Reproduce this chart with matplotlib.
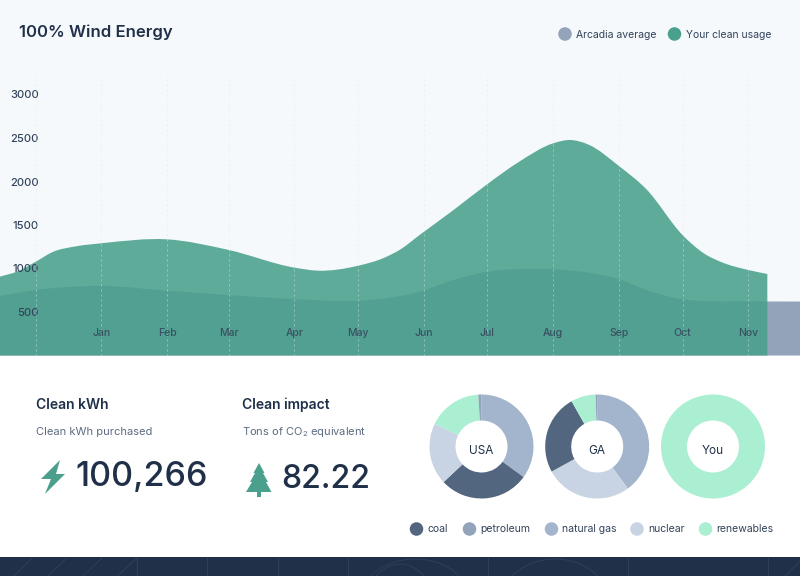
import numpy as np
import matplotlib
matplotlib.use("Agg")
import matplotlib.pyplot as plt
from matplotlib.path import Path
from matplotlib.patches import PathPatch, Polygon, Arc

# days counted from the Jan tick (leap year)
month_labels = ["Jan", "Feb", "Mar", "Apr", "May", "Jun", "Jul", "Aug", "Sep", "Oct", "Nov"]
month_days = [0, 31, 60, 91, 121, 152, 182, 213, 244, 274, 305]
grid_days = [-31] + month_days
y_ticks = [500, 1000, 1500, 2000, 2500, 3000]

usage_days = [-48, -40, -31, -23, -12, 0, 31, 60, 91, 102, 121, 133, 141, 150, 166, 182, 197, 213,
              221, 230, 244, 257, 274, 284, 293, 305, 314]
usage_vals = [906, 963, 1078, 1190, 1255, 1290, 1335, 1213, 1010, 975, 1032, 1120, 1220, 1385, 1672, 1971,
              2228, 2439, 2477, 2420, 2178, 1910, 1385, 1175, 1067, 983, 937]

arcadia_days = [-48, -31, 0, 31, 60, 91, 121, 141, 150, 166, 182, 197, 213, 235, 244, 257, 274, 284, 305, 330]
arcadia_vals = [684, 753, 799, 745, 695, 649, 630, 684, 733, 868, 963, 994, 991, 930, 879, 753, 646, 626, 622, 620]

energy_labels = ["coal", "petroleum", "natural gas", "nuclear", "renewables"]
energy_colors = ["#53667f", "#92a3ba", "#a3b5cc", "#c8d4e3", "#aaefd2"]
usa_order = [2, 0, 3, 4, 1]
usa_shares = [35, 28, 19.2, 16.8, 1]
ga_order = [2, 3, 0, 4, 1]
ga_shares = [40, 27, 24.8, 7.7, 0.5]
you_order = [4]
you_shares = [100]

PAGE_BG = "#f5f9fc"
DARK = "#1f3048"
GREEN = "#4aa08c"
W, H = 800, 576


def smooth_area(days, vals):
    # cubic hermite through the read points, closed down to zero
    x = np.asarray(days, float)
    y = np.asarray(vals, float)
    slopes = np.gradient(y, x)
    verts = [(x[0], 0), (x[0], y[0])]
    codes = [Path.MOVETO, Path.LINETO]
    for i in range(len(x) - 1):
        h = x[i + 1] - x[i]
        verts += [(x[i] + h / 3, y[i] + slopes[i] * h / 3),
                  (x[i + 1] - h / 3, y[i + 1] - slopes[i + 1] * h / 3),
                  (x[i + 1], y[i + 1])]
        codes += [Path.CURVE4] * 3
    verts += [(x[-1], 0), (x[0], 0)]
    codes += [Path.LINETO, Path.CLOSEPOLY]
    return Path(verts, codes)


plt.rcParams["font.family"] = ["Inter", "DejaVu Sans"]
plt.rcParams["mathtext.default"] = "regular"

fig = plt.figure(figsize=(8, 5.76), dpi=100, facecolor="white")

# page layer in pixel coordinates
page = fig.add_axes([0, 0, 1, 1], zorder=0)
page.set_xlim(0, W)
page.set_ylim(H, 0)
page.axis("off")
page.fill_between([0, W], 0, 356, color=PAGE_BG, lw=0)
page.fill_between([0, W], 557, H, color=DARK, lw=0)

# faint lines in the footer
footer_lines = [[(14, 576), (32, 558)], [(48, 576), (67, 558)], [(83, 576), (102, 558)],
                [(117, 576), (137, 558)], [(137, 558), (137, 576)], [(207, 558), (207, 576)],
                [(278, 558), (278, 576)], [(348, 558), (348, 576)], [(488, 558), (488, 576)],
                [(628, 558), (628, 576)], [(768, 558), (768, 576)], [(785, 576), (800, 561)]]
for seg in footer_lines:
    xs, ys = zip(*seg)
    page.plot(xs, ys, color="#2e3f58", lw=0.7)
for cx, cy, w, h in [(400, 601, 64, 74), (415, 592, 100, 66), (555, 607, 112, 96)]:
    page.add_patch(Arc((cx, cy), w, h, theta1=180, theta2=360, color="#2e3f58", lw=0.7))

# area chart
ax = fig.add_axes([0, 1 - 355.5 / H, 1, (355.5 - 60) / H], zorder=1)
ax.patch.set_alpha(0)
ax.set_xlim(-47.86, 329.4)
ax.set_ylim(0, (355.5 - 60) / 0.087)
ax.set_axisbelow(False)
for s in ax.spines.values():
    s.set_visible(False)
ax.add_patch(PathPatch(smooth_area(arcadia_days, arcadia_vals), fc="#92a3ba", ec="none", zorder=1))
ax.add_patch(PathPatch(smooth_area(usage_days, usage_vals), fc=GREEN, ec="none", alpha=0.88, zorder=2))
ax.vlines(grid_days, 0, 3220, color="#dfe6ec", lw=0.6, ls=(0, (2.5, 3.5)), alpha=0.55, zorder=3)
ax.set_yticks(y_ticks)
ax.set_yticklabels([str(v) for v in y_ticks])
ax.tick_params(axis="y", direction="in", pad=-28, length=0, labelsize=8, labelcolor="#33435a")
for lab in ax.get_yticklabels():
    lab.set_ha("right")
    lab.set_fontweight("medium")
ax.set_xticks([])
for d, m in zip(month_days, month_labels):
    ax.annotate(m, (d, 0), xytext=(0, 16), textcoords="offset points", ha="center", va="center",
                fontsize=7.5, fontweight="medium", color="#33435a", alpha=0.85, zorder=5)

# top labels
page2 = fig.add_axes([0, 0, 1, 1], zorder=2)
page2.set_xlim(0, W)
page2.set_ylim(H, 0)
page2.axis("off")
page2.text(19, 32.5, "100% Wind Energy", fontsize=12, fontweight="semibold", color=DARK, va="center")
page2.scatter([565, 674.5], [34, 34], s=95, color=["#92a3ba", GREEN], lw=0)
page2.text(576, 34.5, "Arcadia average", fontsize=7.5, color="#33435a", va="center")
page2.text(686, 34.5, "Your clean usage", fontsize=7.5, color="#33435a", va="center")

# stats
page2.text(36.5, 405, "Clean kWh", fontsize=10, fontweight="semibold", color=DARK, va="center")
page2.text(36.5, 432, "Clean kWh purchased", fontsize=8, color="#5c6c80", va="center")
page2.text(75, 476.5, "100,266", fontsize=24.5, fontweight="medium", color=DARK, va="center")
page2.text(242, 405, "Clean impact", fontsize=10, fontweight="semibold", color=DARK, va="center")
page2.text(242, 432, "Tons of CO$_2$ equivalent", fontsize=8, color="#5c6c80", va="center")
page2.text(281, 479, "82.22", fontsize=23, fontweight="medium", color=DARK, va="center")

bolt = [(60, 460), (41, 479), (51, 479), (45, 494), (65, 474), (56, 474)]
page2.add_patch(Polygon(bolt, closed=True, fc=GREEN, ec="none"))
tree = [(259, 463), (264.5, 473), (263, 473), (268, 482), (266, 482), (271.5, 492), (261, 492), (261, 497),
        (257, 497), (257, 492), (246, 492), (252, 482), (250, 482), (255, 473), (253.5, 473)]
page2.add_patch(Polygon(tree, closed=True, fc=GREEN, ec="none"))

# donuts
for cx, name, order, shares in [(481.5, "USA", usa_order, usa_shares),
                                (597.2, "GA", ga_order, ga_shares),
                                (713, "You", you_order, you_shares)]:
    r = 52
    dax = fig.add_axes([(cx - r) / W, 1 - (446.5 + r) / H, 2 * r / W, 2 * r / H], zorder=3)
    dax.pie(shares, colors=[energy_colors[i] for i in order], startangle=90, counterclock=False,
            radius=1.0, wedgeprops=dict(width=0.5, lw=0))
    dax.set_xlim(-1, 1)
    dax.set_ylim(-1, 1)
    dax.text(0, -0.08, name, ha="center", va="center", fontsize=8.5, color=DARK)

# energy legend
leg_x = [416.5, 469.5, 551.5, 637, 705.5]
page2.scatter(leg_x, [529] * 5, s=95, color=energy_colors, lw=0)
for x, lab in zip(leg_x, energy_labels):
    page2.text(x + 11, 529.5, lab, fontsize=7.5, color="#33435a", va="center")

fig.savefig("out.png", dpi=100)
